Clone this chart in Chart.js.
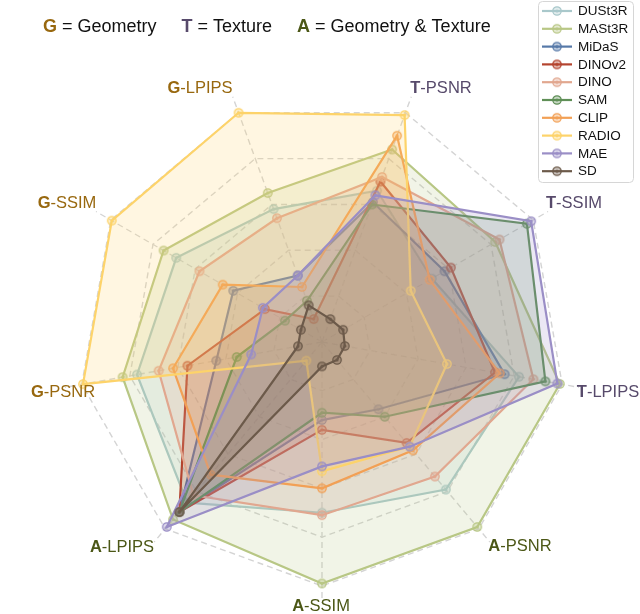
<!DOCTYPE html>
<html>
<head>
<meta charset="utf-8">
<script src="https://cdn.jsdelivr.net/npm/chart.js@4.4.0/dist/chart.umd.min.js"></script>
<style>
  html, body { margin: 0; padding: 0; background: #fff; }
  canvas { display: block; }
</style>
</head>
<body>
<canvas id="radar" width="640" height="614"></canvas>
<script>
// axes go clockwise starting at 20deg from the top
const axisLabels = ["T-PSNR", "T-SSIM", "T-LPIPS", "A-PSNR", "A-SSIM", "A-LPIPS", "G-PSNR", "G-SSIM", "G-LPIPS"];
const models = ["DUSt3R", "MASt3R", "MiDaS", "DINOv2", "DINO", "SAM", "CLIP", "RADIO", "MAE", "SD"];

const dust3r = [0.66, 0.52, 0.82, 0.79, 0.70, 0.86, 0.77, 0.69, 0.58];
const mast3r = [0.84, 0.82, 0.99, 0.99, 0.99, 0.95, 0.83, 0.75, 0.65];
const midas  = [0.61, 0.58, 0.76, 0.36, 0.32, 0.91, 0.44, 0.42, 0.29];
const dinov2 = [0.70, 0.61, 0.72, 0.54, 0.36, 0.91, 0.56, 0.27, 0.10];
const dino   = [0.72, 0.84, 0.88, 0.72, 0.71, 0.82, 0.68, 0.58, 0.54];
const sam    = [0.60, 0.97, 0.93, 0.40, 0.29, 0.91, 0.355, 0.175, 0.18];
const clip   = [0.90, 0.51, 0.74, 0.58, 0.60, 0.71, 0.62, 0.47, 0.24];
const radio  = [0.99, 0.42, 0.52, 0.56, 0.53, 0.10, 0.995, 0.995, 1.0];
const mae    = [0.64, 0.99, 0.98, 0.56, 0.51, 0.99, 0.295, 0.28, 0.29];
const sd     = [0.10, 0.10, 0.095, 0.096, 0.10, 0.91, 0.10, 0.10, 0.16];

const series = [dust3r, mast3r, midas, dinov2, dino, sam, clip, radio, mae, sd];
const colors = ["#a9c8cb", "#b8c785", "#5679a8", "#b4442f", "#e1a78f", "#5f8f57", "#f2a055", "#fdd36a", "#9a8ec6", "#6c5a4a"];

const groupColors = { G: "#98680f", T: "#574a6b", A: "#4b5716" };
const FONT = "'Liberation Sans', Arial, sans-serif";

function hexA(hex, a) {
  const n = parseInt(hex.slice(1), 16);
  return `rgba(${(n >> 16) & 255},${(n >> 8) & 255},${n & 255},${a})`;
}

function makeMarker(color) {
  const c = document.createElement("canvas");
  c.width = 12;
  c.height = 12;
  const g = c.getContext("2d");
  g.beginPath();
  g.arc(6, 6, 4.2, 0, Math.PI * 2);
  g.fillStyle = hexA(color, 0.35);
  g.fill();
  g.lineWidth = 1.3;
  g.strokeStyle = color;
  g.stroke();
  g.beginPath();
  g.arc(6, 6, 1.5, 0, Math.PI * 2);
  g.fillStyle = color;
  g.fill();
  return c;
}

const markers = colors.map(makeMarker);

// draw a run of text pieces, centred on (cx, cy)
function drawPieces(ctx, pieces, cx, cy, size) {
  let total = 0;
  pieces.forEach(p => {
    ctx.font = `${p.bold ? "bold " : ""}${size}px ${FONT}`;
    p.w = ctx.measureText(p.text).width;
    total += p.w;
  });
  let x = cx - total / 2;
  ctx.textAlign = "left";
  ctx.textBaseline = "middle";
  pieces.forEach(p => {
    ctx.font = `${p.bold ? "bold " : ""}${size}px ${FONT}`;
    ctx.fillStyle = p.color;
    ctx.fillText(p.text, x, cy);
    x += p.w;
  });
  return total;
}

// label centres, as offsets from the radar centre
const labelOffsets = [[119, -254], [252, -139], [286, 50], [198, 204], [-1, 264], [-200, 205], [-259, 50], [-255, -139], [-122, -254]];

const textPlugin = {
  id: "textPlugin",
  afterDraw(chart) {
    const ctx = chart.ctx;
    const s = chart.scales.r;
    ctx.save();

    // axis labels
    axisLabels.forEach((lab, i) => {
      const key = lab[0];
      const col = groupColors[key];
      drawPieces(ctx, [
        { text: key, bold: true, color: col },
        { text: lab.slice(1), bold: false, color: col }
      ], s.xCenter + labelOffsets[i][0], s.yCenter + labelOffsets[i][1], 16.5);
    });

    // title line
    const groups = [
      [{ text: "G", bold: true, color: groupColors.G }, { text: " = Geometry", color: "#111" }],
      [{ text: "T", bold: true, color: groupColors.T }, { text: " = Texture", color: "#111" }],
      [{ text: "A", bold: true, color: groupColors.A }, { text: " = Geometry & Texture", color: "#111" }]
    ];
    let x = 43;
    groups.forEach(g => {
      let w = 0;
      g.forEach(p => {
        ctx.font = `${p.bold ? "bold " : ""}18px ${FONT}`;
        w += ctx.measureText(p.text).width;
      });
      drawPieces(ctx, g, x + w / 2, 27, 18);
      x += w + 25;
    });

    // legend
    ctx.beginPath();
    ctx.roundRect(538.5, 1.5, 95, 181, 4);
    ctx.fillStyle = "rgba(255,255,255,0.85)";
    ctx.fill();
    ctx.strokeStyle = "#d6d6d6";
    ctx.lineWidth = 1;
    ctx.stroke();
    models.forEach((m, i) => {
      const y = 11 + i * 17.8;
      ctx.beginPath();
      ctx.moveTo(542, y);
      ctx.lineTo(572, y);
      ctx.strokeStyle = colors[i];
      ctx.lineWidth = 2.2;
      ctx.stroke();
      ctx.drawImage(markers[i], 557 - 6, y - 6);
      ctx.font = `13.5px ${FONT}`;
      ctx.fillStyle = "#111";
      ctx.textAlign = "left";
      ctx.textBaseline = "middle";
      ctx.fillText(m, 578, y + 0.5);
    });

    ctx.restore();
  }
};

const gridGrey = "#d4d4d4";

new Chart(document.getElementById("radar"), {
  type: "radar",
  data: {
    labels: axisLabels,
    datasets: models.map((m, i) => ({
      label: m,
      data: series[i],
      borderColor: colors[i],
      backgroundColor: hexA(colors[i], 0.2),
      borderWidth: 2.2,
      pointStyle: markers[i],
      pointRadius: 5,
      fill: true,
      order: models.length - i
    }))
  },
  options: {
    responsive: false,
    animation: false,
    layout: { padding: { left: 61, right: 57, top: 81, bottom: 11 } },
    plugins: {
      legend: { display: false },
      title: { display: false },
      tooltip: { enabled: false }
    },
    scales: {
      r: {
        min: 0,
        max: 1.07,
        startAngle: 20,
        ticks: { display: false, stepSize: 0.2 },
        pointLabels: { display: false },
        grid: {
          color: gridGrey,
          lineWidth: c => (c.tick && c.tick.value > 1.001 ? 0 : 1.4),
          borderDash: [6, 4]
        },
        border: { dash: [6, 4] },
        angleLines: { color: gridGrey, lineWidth: 1.4, borderDash: [6, 4] }
      }
    }
  },
  plugins: [textPlugin]
});
</script>
</body>
</html>
